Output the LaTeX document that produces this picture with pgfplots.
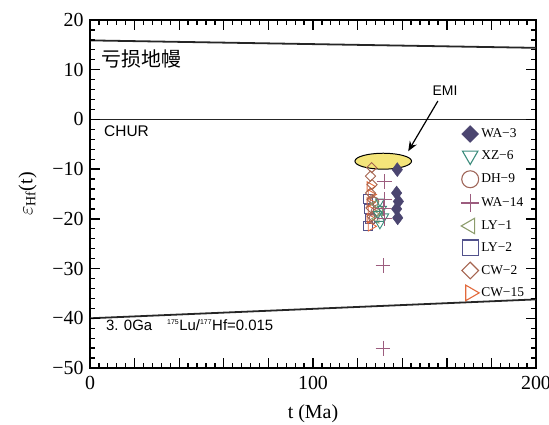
\documentclass[border=0pt]{standalone}
\usepackage{fontspec}
\setmainfont{Liberation Serif}
\newfontfamily\arialf{Liberation Sans}
\newfontfamily\cjk{Noto Sans CJK SC}
\usepackage{pgfplots}
\pgfplotsset{compat=1.18}
\usetikzlibrary{arrows.meta}
\definecolor{wa3}{HTML}{4B4570}
\definecolor{xz6}{HTML}{3C8C7C}
\definecolor{dh9}{HTML}{A0675A}
\definecolor{wa14}{HTML}{9C5C7E}
\definecolor{ly1}{HTML}{8C9C6C}
\definecolor{ly2}{HTML}{52528C}
\definecolor{cw2}{HTML}{A5644F}
\definecolor{cw15}{HTML}{E26A3C}
\definecolor{emi}{HTML}{F4E57A}
\begin{document}
\begin{tikzpicture}
\begin{axis}[
  scale only axis, width=446bp, height=348bp,
  xmin=0, xmax=200, ymin=-50, ymax=20,
  xtick={0,20,...,200},
  xticklabels={0,,,,,100,,,,,200},
  minor x tick num=4,
  ytick={-50,-40,...,20},
  yticklabels={−50,−40,−30,−20,−10,0,10,20},
  minor y tick num=4,
  tick align=inside,
  major tick length=10pt, minor tick length=5pt,
  major tick style={black, line width=1.4pt},
  minor tick style={black, line width=1.3pt},
  axis line style={line width=1.2pt},
  ticklabel style={font=\fontsize{20}{20}\selectfont},
  xticklabel style={yshift=-5pt},
  yticklabel style={xshift=-3pt},
  xlabel={t (Ma)},
  ylabel={$\varepsilon_{\mathrm{Hf}}$(t)},
  label style={font=\fontsize{20}{20}\selectfont},
  xlabel style={at={(axis description cs:0.5,-0.132)}, anchor=center},
  ylabel style={at={(axis description cs:-0.14,0.5)}, anchor=center},
  clip=false,
  legend style={draw=none, fill=none, at={(rel axis cs:0.824,0.703)}, anchor=north west,
    font=\fontsize{13.5}{13.5}\selectfont, row sep=6.3pt, nodes={inner sep=1.6pt}},
  legend cell align=left,
  legend image code/.code={\path (-9pt,0pt) (9pt,0pt); \draw[#1] plot coordinates {(0pt,0pt)};},
]
% reference lines
\addplot[black!85, line width=1.8pt, forget plot] coordinates {(0,15.9) (200,14.4)};
\addplot[black!85, line width=1.8pt, forget plot] coordinates {(0,0) (200,0)};
\addplot[black!85, line width=1.8pt, forget plot] coordinates {(0,-40) (200,-36.2)};
% EMI field
\draw[black, line width=1pt, fill=emi] (axis cs:131.5,-8.4) ellipse [x radius=12.7, y radius=1.6];
\draw[black, line width=1.2pt, -{Stealth[length=10bp,width=8bp]}] (axis cs:156,3.7) -- (axis cs:142.7,-6.4);
\node[font=\arialf\fontsize{14}{14}\selectfont] at (axis cs:159.2,5.7) {EMI};
\node[font=\cjk\fontsize{20}{20}\selectfont, anchor=west] at (axis cs:3.6,12.1) {亏损地幔};
\node[font=\arialf\fontsize{15.5}{15.5}\selectfont, anchor=west] at (axis cs:4.8,-2.3) {CHUR};
\node[font=\arialf\fontsize{15}{15}\selectfont, anchor=west] at (axis cs:5.6,-41.3) {3. 0Ga\quad\textsuperscript{\fontsize{7}{7}\selectfont 175}Lu/\textsuperscript{\fontsize{7}{7}\selectfont 177}Hf=0.015};
% data
\addplot[only marks, forget plot, mark=square, mark size=4.5, ly2, line width=0.9pt] coordinates {
(124.5,-16) (125,-18) (125.5,-20) (124.5,-21.5)};
\addplot[only marks, forget plot, mark=triangle, mark size=5.5, mark options={rotate=-90}, cw15, line width=0.9pt] coordinates {
(125.5,-13.5) (126,-15.1) (125.5,-16.7) (126,-18.3) (125.5,-19.9) (126,-21.5)};
\addplot[only marks, forget plot, mark=square, mark size=3.6, mark options={rotate=45}, cw2, line width=0.9pt] coordinates {
(126.3,-9.7) (125.8,-11.4) (126.5,-13.1) (125.8,-14.8) (126.5,-16.1) (126,-17.8) (126.5,-19.5)};
\addplot[only marks, forget plot, mark=o, mark size=4.5, dh9, line width=0.9pt] coordinates {
(127.5,-16.5) (128,-18.5) (127,-20)};
\addplot[only marks, forget plot, mark=triangle, mark size=5, mark options={rotate=90}, ly1, line width=0.9pt] coordinates {
(128,-17) (130,-18.5) (128.5,-20)};
\addplot[only marks, forget plot, mark=triangle, mark size=5, mark options={rotate=180}, xz6, line width=0.9pt] coordinates {
(130,-16.5) (131,-18) (129,-19) (132,-19.5) (130,-21)};
\addplot[only marks, forget plot, mark=+, mark size=7.5, wa14, line width=0.9pt] coordinates {
(132,-12.5) (132,-16.1) (131.5,-18) (132,-20) (131.4,-29.4) (131.4,-46)};
\addplot[only marks, forget plot, mark=diamond*, mark size=7, wa3, fill=wa3] coordinates {
(137.8,-10.1) (137.5,-14.8) (138.3,-16.5) (137.5,-18) (138,-19.8)};
% legend
\addlegendimage{only marks, mark=square*, mark size=6, mark options={rotate=45}, wa3, fill=wa3}
\addlegendentry{WA−3}
\addlegendimage{only marks, mark=triangle, mark size=9, mark options={rotate=180}, xz6, line width=1.1pt}
\addlegendentry{XZ−6}
\addlegendimage{only marks, mark=o, mark size=8.5, dh9, line width=1.1pt}
\addlegendentry{DH−9}
\addlegendimage{only marks, mark=+, mark size=9, wa14, line width=1.1pt}
\addlegendentry{WA−14}
\addlegendimage{only marks, mark=triangle, mark size=9, mark options={rotate=90}, ly1, line width=1.1pt}
\addlegendentry{LY−1}
\addlegendimage{only marks, mark=square, mark size=8, ly2, line width=1.1pt}
\addlegendentry{LY−2}
\addlegendimage{only marks, mark=square, mark size=5.9, mark options={rotate=45}, cw2, line width=1.1pt}
\addlegendentry{CW−2}
\addlegendimage{only marks, mark=triangle, mark size=9, mark options={rotate=-90}, cw15, line width=1.1pt}
\addlegendentry{CW−15}
\end{axis}
% tick marks drawn with plain TikZ on the axis frame
\begin{scope}[shift={(current axis.south west)}]
  \foreach \i in {1,...,49} {
    \draw[black, line width=1.3pt] ({\i*8.92bp},0) -- ++(0,5bp);
    \draw[black, line width=1.3pt] ({\i*8.92bp},348bp) -- ++(0,-5bp);
  }
  \foreach \i in {1,...,9} {
    \draw[black, line width=1.4pt] ({\i*44.6bp},0) -- ++(0,9bp);
    \draw[black, line width=1.4pt] ({\i*44.6bp},348bp) -- ++(0,-9bp);
  }
  \foreach \j in {1,...,34} {
    \draw[black, line width=1.3pt] (0,{\j*9.942857bp}) -- ++(5bp,0);
    \draw[black, line width=1.3pt] (446bp,{\j*9.942857bp}) -- ++(-5bp,0);
  }
  \foreach \j in {1,...,6} {
    \draw[black, line width=1.4pt] (0,{\j*49.714286bp}) -- ++(10bp,0);
    \draw[black, line width=1.4pt] (446bp,{\j*49.714286bp}) -- ++(-10bp,0);
  }
\end{scope}
\pgfresetboundingbox
\path (current axis.south west) ++(-90bp,-57bp) rectangle ++(549bp,425bp);
\end{tikzpicture}
\end{document}
